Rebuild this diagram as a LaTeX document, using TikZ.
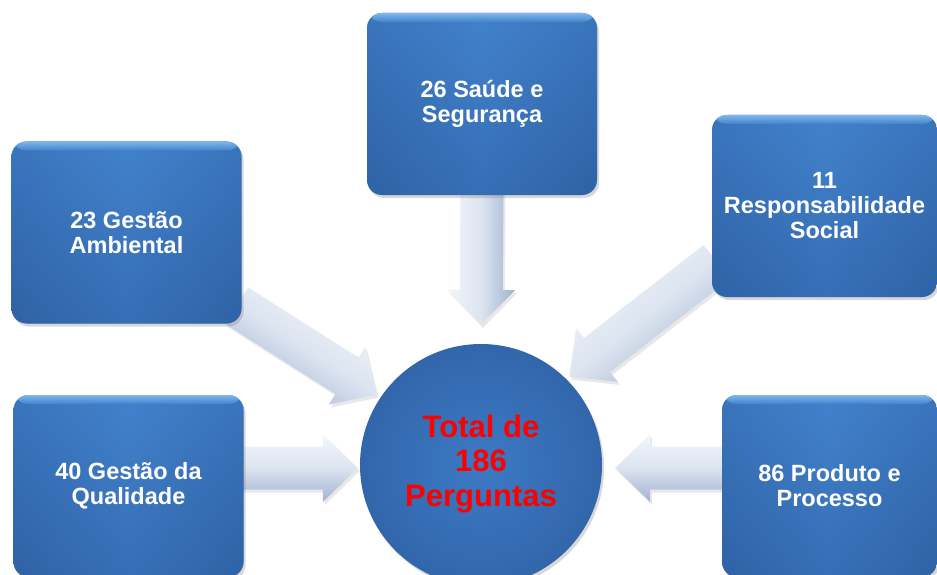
\documentclass[tikz,border=0pt]{standalone}
\usepackage{fontspec}
\setmainfont{Liberation Sans}
\usetikzlibrary{calc,shadows}
\definecolor{boxtop}{HTML}{4282CC}
\definecolor{boxbot}{HTML}{3165AA}
\definecolor{boxhl}{HTML}{7FB6EC}
\definecolor{boxedge}{HTML}{2D5E9F}
\definecolor{arrlight}{HTML}{F4F7FB}
\definecolor{arrmid}{HTML}{DCE4F0}
\definecolor{arrdark}{HTML}{9FB2CF}
\definecolor{circin}{HTML}{3C7AC4}
\definecolor{circout}{HTML}{3266AB}
\pgfdeclarelayer{background}
\pgfsetlayers{background,main}
\newcommand\boxfont{\bfseries\fontsize{23.5}{25}\selectfont}
\newcommand\totfont{\bfseries\fontsize{31}{34.5}\selectfont}
\def\asw{21.5pt}\def\ahw{34pt}\def\ahl{35pt}
\newcommand\blockarr[3][0]{%
  \coordinate (ah) at ($(#3)!\ahl!(#2)$);
  \path[arrowbody,shading angle=#1]
    ($(#2)!\asw!90:(#3)$) -- ($(ah)!\asw!90:(#3)$) -- ($(ah)!\ahw!90:(#3)$) --
    (#3) -- ($(ah)!\ahw!-90:(#3)$) -- ($(ah)!\asw!-90:(#3)$) --
    ($(#2)!\asw!-90:(#3)$) -- cycle;
}
\tikzset{
  box/.style={rounded corners=15pt, minimum width=230pt, minimum height=182pt,
    inner sep=0pt, top color=boxtop, bottom color=boxbot, text=white,
    align=center, font=\boxfont,
    drop shadow={shadow xshift=2pt, shadow yshift=-3pt, opacity=0.3},
    path picture={
      \shade[left color=boxedge, right color=boxedge, middle color=boxtop, opacity=0.35]
        (path picture bounding box.south west) rectangle
        (path picture bounding box.north east);
      \shade[top color=boxhl, bottom color=boxtop]
        (path picture bounding box.north west) rectangle
        ([yshift=-9pt]path picture bounding box.north east);}},
  circ/.style={circle, minimum size=242pt, inner sep=0pt,
    inner color=circin, outer color=circout, text=red, align=center,
    font=\totfont,
    drop shadow={shadow xshift=2pt, shadow yshift=-3pt, opacity=0.3}},
  arrowbody/.style={top color=arrlight, bottom color=arrdark, middle color=arrmid,
    drop shadow={shadow xshift=2pt, shadow yshift=-3pt, opacity=0.18}}
}
\begin{document}
\begin{tikzpicture}[x=1pt,y=1pt]
\useasboundingbox (0,0) rectangle (937,-575);
\clip (0,0) rectangle (937,-575);

\node[box] (ss) at (482,-104) {26 Saúde e\\Segurança};
\node[box] (ga) at (126.5,-232.5) {23 Gestão\\Ambiental};
\node[box, minimum width=225pt] (rs) at (824.5,-206) {11\\Responsabilidade\\Social};
\node[box] (gq) at (128.5,-486) {40 Gestão da\\Qualidade};
\node[box, minimum width=215pt] (pp) at (829.5,-486) {86 Produto e\\Processo};
\node[circ] (tot) at (481,-465) {\raisebox{5pt}{\begin{tabular}{@{}c@{}}Total de\\186\\Perguntas\end{tabular}}};

\begin{pgfonlayer}{background}
  \fill[white] (0,0) rectangle (937,-575);
  \coordinate (s1) at ($(ss.south)+(0,5)$);
  \coordinate (t1) at ($(tot.north)+(0,19)$);
  \coordinate (s2) at ($(ga.south east)+(-5,18)$);
  \coordinate (t2) at ($(tot.center)+(146:126)$);
  \coordinate (s3) at ($(rs.west)+(5,-56)$);
  \coordinate (t3) at ($(tot.center)+(45:125)$);
  \coordinate (s4) at ($(gq.east)+(-5,18)$);
  \coordinate (t4) at ($(tot.west)+(-2,-3)$);
  \coordinate (s5) at ($(pp.west)+(5,18)$);
  \coordinate (t5) at ($(tot.east)+(13,-3)$);
  \blockarr[90]{s1}{t1}
  \blockarr[-33]{s2}{t2}
  \blockarr[39]{s3}{t3}
  \blockarr[0]{s4}{t4}
  \blockarr[0]{s5}{t5}
\end{pgfonlayer}
\end{tikzpicture}
\end{document}
